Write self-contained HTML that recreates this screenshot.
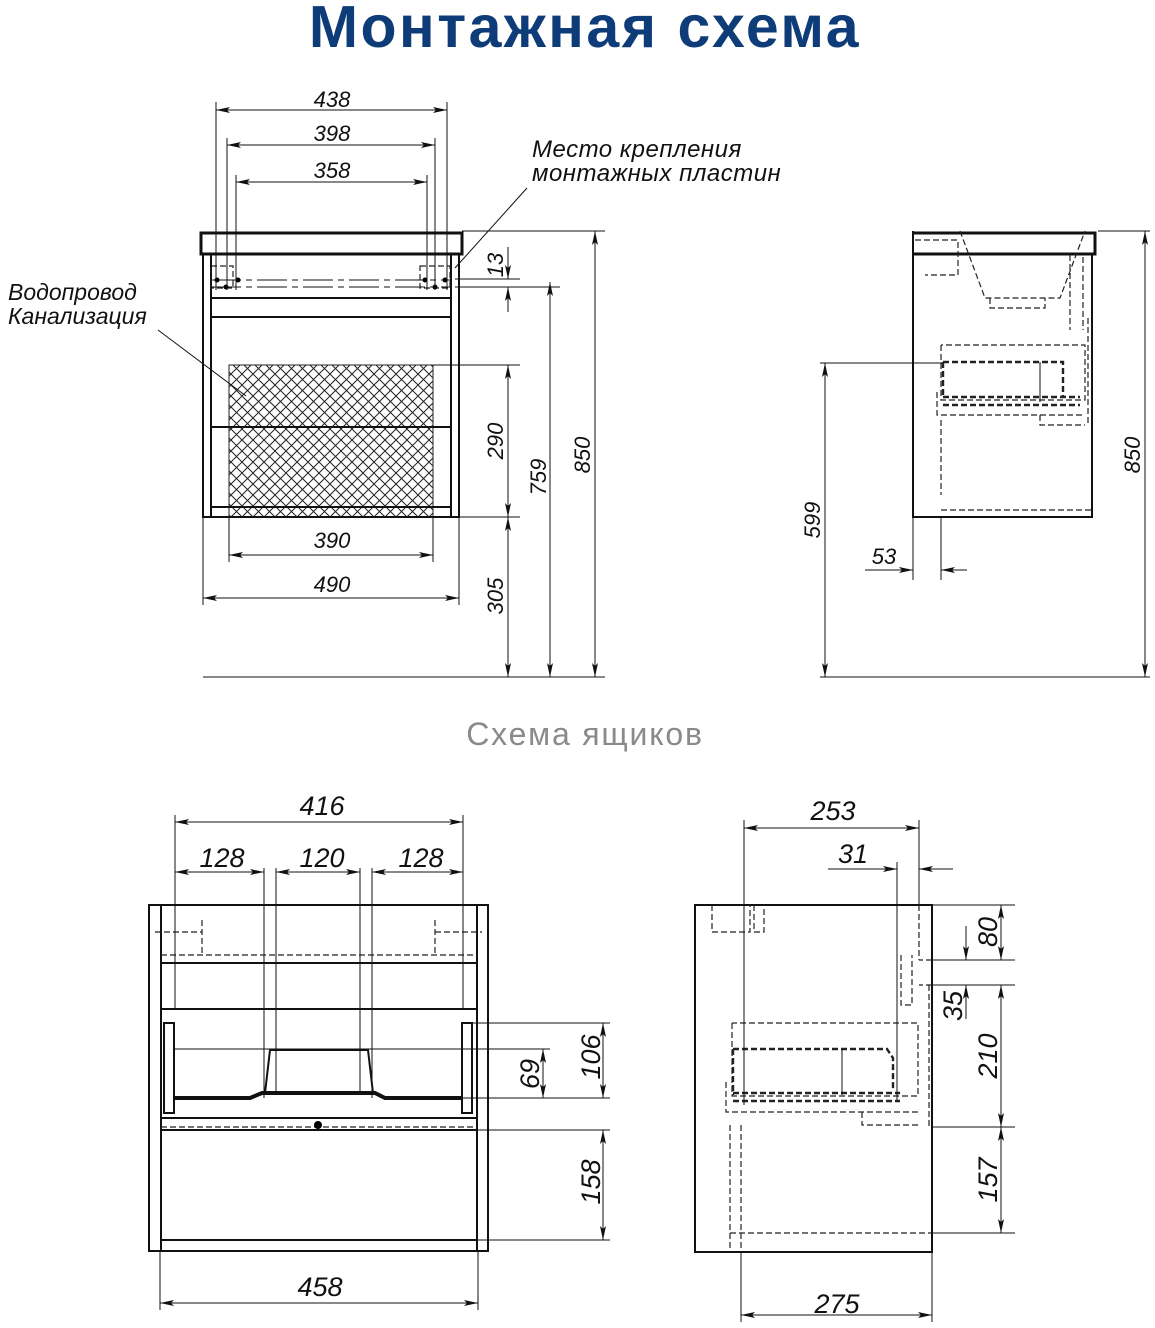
<!DOCTYPE html>
<html><head><meta charset="utf-8"><style>
html,body{margin:0;padding:0;background:#fff;}
svg{display:block}
.t{font-family:"Liberation Sans",sans-serif;font-style:italic;font-size:22px;fill:#111}
.d{stroke:#111;stroke-width:1;fill:none}
.k{stroke:#111;stroke-width:2;fill:none}
.kk{stroke:#111;stroke-width:3;fill:none}
.ds{stroke:#222;stroke-width:1.2;fill:none;stroke-dasharray:6 3}
.dd{stroke:#222;stroke-width:2.4;fill:none;stroke-dasharray:6 3}
.b{stroke:#111;stroke-width:1;fill:none;marker-start:url(#s);marker-end:url(#a)}
.e{stroke:#111;stroke-width:1;fill:none;marker-end:url(#a)}
</style></head><body>
<svg width="1155" height="1328" viewBox="0 0 1155 1328" xmlns="http://www.w3.org/2000/svg">
<defs>
<marker id="a" viewBox="0 0 14 6" refX="14" refY="3" markerWidth="14" markerHeight="6" orient="auto" markerUnits="userSpaceOnUse"><path d="M0,0 L14,3 L0,6 L3,3z" fill="#111"/></marker>
<marker id="s" viewBox="0 0 14 6" refX="0" refY="3" markerWidth="14" markerHeight="6" orient="auto" markerUnits="userSpaceOnUse"><path d="M14,0 L0,3 L14,6 L11,3z" fill="#111"/></marker>
<pattern id="m" width="11" height="11" patternUnits="userSpaceOnUse"><path d="M0,0 L11,11 M11,0 L0,11" stroke="#222" stroke-width="1"/></pattern>
</defs>
<text x="585" y="47" text-anchor="middle" style="font-family:'Liberation Sans',sans-serif;font-weight:bold;font-size:59px;letter-spacing:2.5px;fill:#0d3c78">Монтажная схема</text>
<text x="585" y="745" text-anchor="middle" style="font-family:'Liberation Sans',sans-serif;font-size:32px;letter-spacing:1.8px;fill:#8a8a8a">Схема ящиков</text>

<!-- TOP LEFT -->
<rect x="229" y="365" width="204" height="152" fill="url(#m)" stroke="#222"/>
<path class="kk" d="M201,254 L201,233 L462,233 L462,254 Z"/>
<path class="k" d="M203,254 V517 H459 V254 M211,254 V517 M451,254 V517 M211,298 H451 M211,507 H451"/>
<rect class="k" x="211" y="317" width="240" height="110"/>
<path class="d" d="M211,280 H451 M211,287 H451" stroke-dasharray="30 5 6 5"/>
<rect class="ds" x="211" y="266" width="22" height="22"/><rect class="ds" x="420" y="266" width="30" height="22"/>
<circle cx="226" cy="287" r="2.5"/><circle cx="238" cy="280" r="2.5"/><circle cx="425" cy="280" r="2.5"/><circle cx="435" cy="287" r="2.5"/><circle cx="445" cy="280" r="2.5"/><circle cx="217" cy="280" r="2.5"/>
<path class="d" d="M216,102 V290 M447,102 V290 M227,138 V290 M435,138 V290 M236,175 V290 M427,175 V290 M229,517 V562 M433,517 V562 M203,517 V605 M459,517 V605 M462,231 H605 M455,279 H520 M455,287 H560 M433,365 H520 M459,517 H520 M203,677 H605"/>
<path class="b" d="M216,110 H447"/><path class="b" d="M227,145 H435"/><path class="b" d="M236,182 H427"/>
<path class="b" d="M229,555 H433"/><path class="b" d="M203,598 H459"/>
<path class="b" d="M508,365 V517"/><path class="b" d="M508,517 V677"/><path class="b" d="M550,282 V677"/><path class="b" d="M595,231 V677"/>
<path class="e" d="M508,247 V279"/><path class="e" d="M508,312 V287"/>
<text class="t" x="332" y="107" text-anchor="middle">438</text>
<text class="t" x="332" y="141" text-anchor="middle">398</text>
<text class="t" x="332" y="178" text-anchor="middle">358</text>
<text class="t" x="332" y="548" text-anchor="middle">390</text>
<text class="t" x="332" y="592" text-anchor="middle">490</text>
<text class="t" transform="translate(503,265) rotate(-90)" text-anchor="middle">13</text>
<text class="t" transform="translate(503,441) rotate(-90)" text-anchor="middle">290</text>
<text class="t" transform="translate(503,596) rotate(-90)" text-anchor="middle">305</text>
<text class="t" transform="translate(546,477) rotate(-90)" text-anchor="middle">759</text>
<text class="t" transform="translate(590,455) rotate(-90)" text-anchor="middle">850</text>
<text class="t" style="font-size:24px;letter-spacing:0.5px" x="532" y="157">Место крепления</text>
<text class="t" style="font-size:24px;letter-spacing:0.5px" x="532" y="181">монтажных пластин</text>
<path class="d" d="M527,188 L455,268"/>
<text class="t" style="font-size:23px" x="8" y="300">Водопровод</text>
<text class="t" style="font-size:23px" x="8" y="324">Канализация</text>
<path class="d" d="M158,330 L246,396"/>

<!-- TOP RIGHT -->
<path class="kk" d="M913,233 H1095 V254 H913"/>
<path class="k" d="M913,231 V517 H1092 V254"/>
<path class="ds" d="M915,240 H958 V275 H925 M960,231 L985,298 H1060 L1085,231 M990,298 V308 H1045 V298 M1070,255 V330 M1083,257 V330 M1088,318 V425 M941,345 V400 H1085 V345 H941"/>
<path class="dd" d="M943,362 H1063 V397 M943,362 V397 M943,397 H1080 M943,405 H1080"/>
<path class="ds" d="M937,392 V415 H1085 M1040,415 V425 H1085 M941,420 V495 M941,510 H1092"/>
<path class="d" d="M1040,362 V402 M1098,231 H1150 M820,363 H943 M820,677 H1150 M913,517 V580 M941,517 V580"/>
<path class="b" d="M1145,231 V677"/><path class="b" d="M825,363 V677"/>
<path class="e" d="M865,570 H913"/><path class="e" d="M967,570 H941"/>
<text class="t" transform="translate(1140,455) rotate(-90)" text-anchor="middle">850</text>
<text class="t" transform="translate(820,520) rotate(-90)" text-anchor="middle">599</text>
<text class="t" x="884" y="564" text-anchor="middle">53</text>

<!-- BOTTOM LEFT -->
<rect class="k" x="149" y="905" width="339" height="346"/>
<path class="k" d="M161,905 V1251 M477,905 V1251 M161,963 H477 M161,1009 H477 M161,1118 H477 M161,1130 H477 M161,1240 H477"/>
<path class="d" d="M175,1049 H463"/>
<path class="ds" d="M161,955 H477 M161,1127 H477 M155,932 H202 M435,932 H482 M202,920 V955 M435,920 V955"/>
<path style="stroke:#111;stroke-width:4;fill:none" d="M175,1098 H250 L262,1093 H375 L385,1098 H463"/>
<path class="k" d="M265,1093 L270,1050 H368 L373,1093"/>
<rect class="k" x="164" y="1023" width="10" height="90"/><rect class="k" x="462" y="1023" width="10" height="90"/>
<circle cx="318" cy="1125" r="4"/>
<path class="d" d="M175,815 V905 M463,815 V905 M175,868 V1010 M264,868 V1098 M276,868 V1093 M360,868 V1093 M372,868 V1098 M463,868 V1010 M472,1023 H610 M375,1049 H550 M463,1098 H610 M477,1130 H610 M477,1240 H610 M160,1251 V1310 M478,1251 V1310"/>
<path class="b" d="M175,822 H463"/><path class="b" d="M175,872 H264"/><path class="b" d="M276,872 H360"/><path class="b" d="M372,872 H463"/>
<path class="b" d="M603,1023 V1098"/><path class="b" d="M543,1049 V1098"/><path class="b" d="M603,1130 V1240"/><path class="b" d="M160,1303 H478"/>
<text x="322" y="815" text-anchor="middle" class="t" style="font-size:27px">416</text>
<text x="222" y="867" text-anchor="middle" class="t" style="font-size:27px">128</text>
<text x="322" y="867" text-anchor="middle" class="t" style="font-size:27px">120</text>
<text x="421" y="867" text-anchor="middle" class="t" style="font-size:27px">128</text>
<text x="320" y="1296" text-anchor="middle" class="t" style="font-size:27px">458</text>
<text class="t" style="font-size:27px" transform="translate(600,1057) rotate(-90)" text-anchor="middle">106</text>
<text class="t" style="font-size:27px" transform="translate(539,1074) rotate(-90)" text-anchor="middle">69</text>
<text class="t" style="font-size:27px" transform="translate(600,1182) rotate(-90)" text-anchor="middle">158</text>

<!-- BOTTOM RIGHT -->
<rect class="k" x="695" y="905" width="237" height="347"/>
<path class="ds" d="M712,905 V932 H750 V905 M754,905 V932 H764 V905 M919,905 V960 M932,960 H919 M932,985 H919 M901,955 V1005 H912 V955 M732,1023 V1096 H918 V1023 H732 M726,1082 V1112 H918 M862,1112 V1125 H920 M730,1125 V1250 M741,1125 V1250 M730,1233 H932 M929,985 V1127"/>
<path class="dd" d="M733,1049 H887 L893,1058 V1090 M733,1049 V1095 M733,1093 H900 M733,1101 H900"/>
<path class="d" d="M842,1049 V1095"/>
<path class="d" d="M744,820 V1105 M919,820 V905 M897,862 V1100 M932,905 H1015 M932,960 H1015 M932,985 H1015 M932,1127 H1015 M932,1233 H1015 M741,1252 V1322 M932,1252 V1322"/>
<path class="b" d="M744,828 H919"/><path class="b" d="M1001,905 V960"/><path class="b" d="M1001,985 V1127"/><path class="b" d="M1001,1127 V1233"/><path class="b" d="M741,1315 H932"/>
<path class="e" d="M828,869 H897"/><path class="e" d="M953,869 H919"/><path class="e" d="M966,926 V960"/><path class="e" d="M966,1019 V985"/>
<text x="833" y="820" text-anchor="middle" class="t" style="font-size:27px">253</text>
<text x="853" y="863" text-anchor="middle" class="t" style="font-size:27px">31</text>
<text x="837" y="1313" text-anchor="middle" class="t" style="font-size:27px">275</text>
<text class="t" style="font-size:27px" transform="translate(997,932) rotate(-90)" text-anchor="middle">80</text>
<text class="t" style="font-size:27px" transform="translate(962,1006) rotate(-90)" text-anchor="middle">35</text>
<text class="t" style="font-size:27px" transform="translate(997,1056) rotate(-90)" text-anchor="middle">210</text>
<text class="t" style="font-size:27px" transform="translate(997,1180) rotate(-90)" text-anchor="middle">157</text>
</svg>
</body></html>
